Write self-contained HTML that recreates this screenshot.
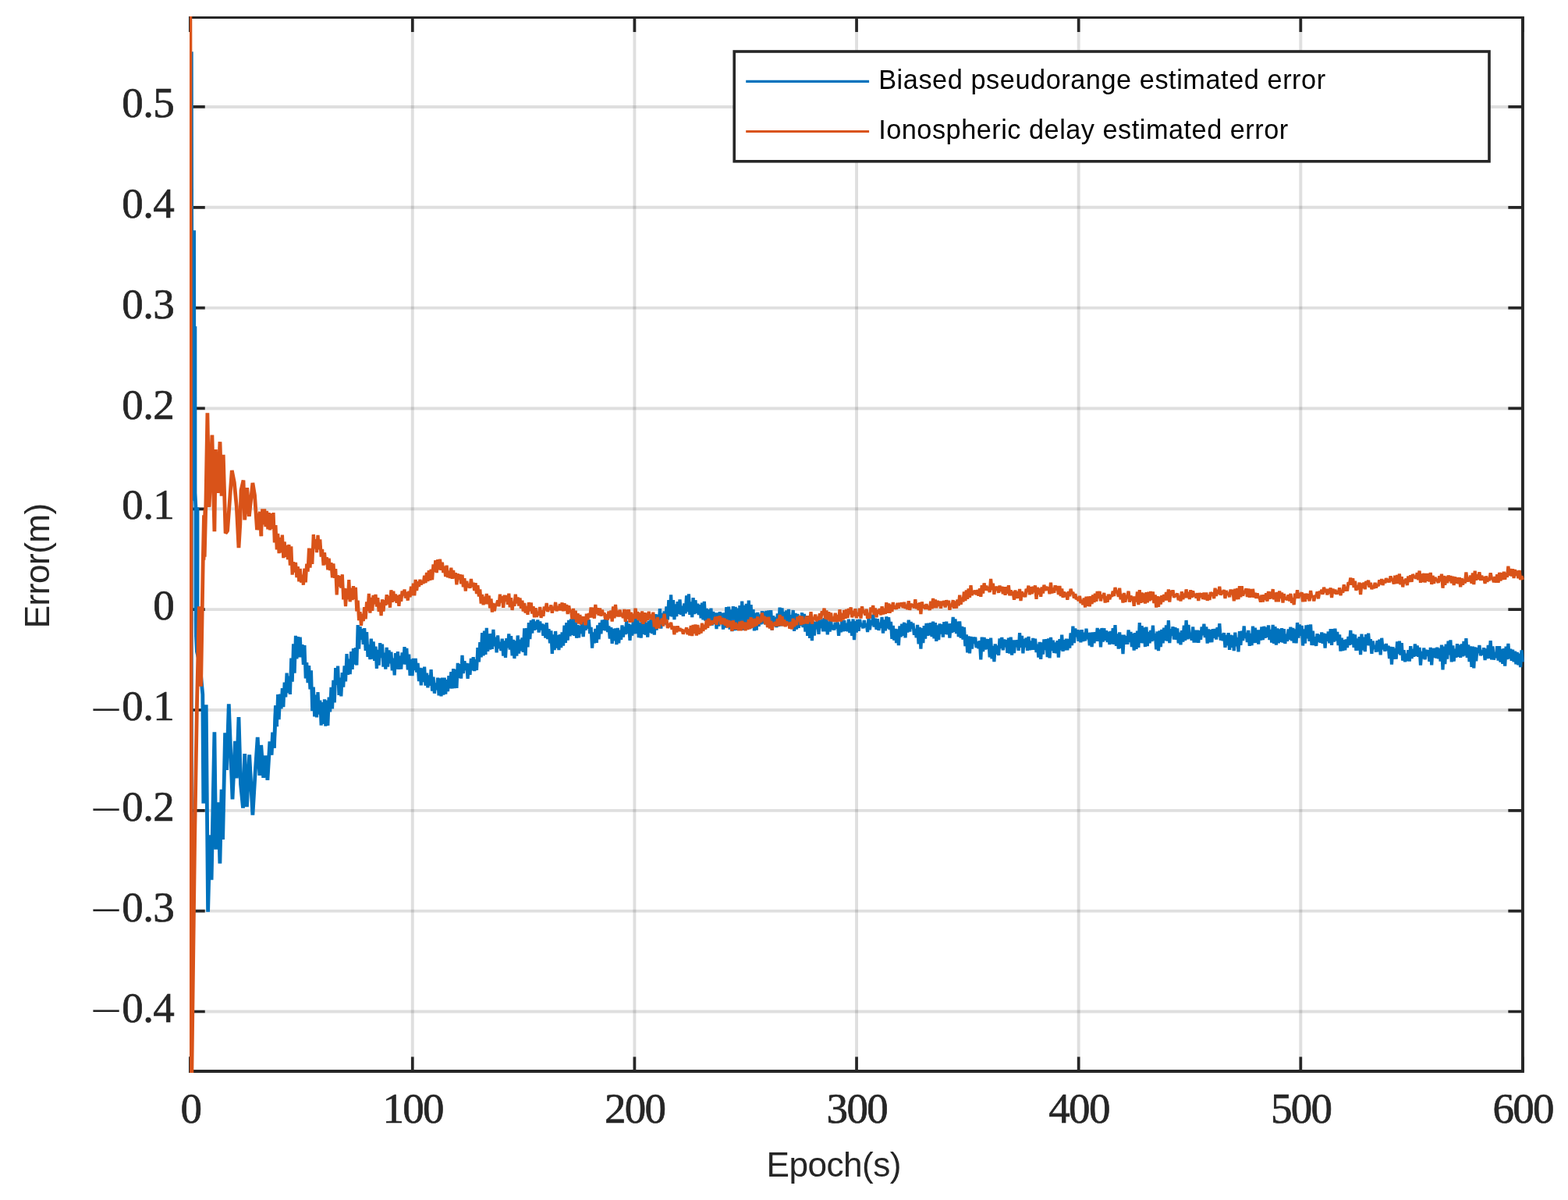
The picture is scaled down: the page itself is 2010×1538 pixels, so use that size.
<!DOCTYPE html>
<html lang="en"><head><meta charset="utf-8"><title>Estimated error</title>
<style>html,body{margin:0;padding:0;background:#fff}body{width:2010px;height:1538px;overflow:hidden}svg{display:block}.tk{font-family:"Liberation Serif","DejaVu Serif",serif;font-size:55px;fill:#262626;stroke:#262626;stroke-width:0.7px;letter-spacing:-0.7px}.lb{font-family:"Liberation Sans","DejaVu Sans",sans-serif;font-size:44.2px;fill:#262626;letter-spacing:-0.55px}.lg{font-family:"Liberation Sans","DejaVu Sans",sans-serif;font-size:34.3px;fill:#000;letter-spacing:0.5px}</style></head><body>
<svg width="2010" height="1538" viewBox="0 0 2010 1538">
<defs><clipPath id="cpb"><rect x="244.4" y="0" width="1720" height="1538"/></clipPath><clipPath id="cp"><rect x="242.9" y="21.0" width="1711.0" height="1354.0"/></clipPath></defs>
<rect x="0" y="0" width="2010" height="1538" fill="#fff"/>
<path d="M528.78,22.45 V1373.00 M813.42,22.45 V1373.00 M1098.05,22.45 V1373.00 M1382.68,22.45 V1373.00 M1667.32,22.45 V1373.00" stroke="#262626" stroke-opacity="0.15" stroke-width="3.9" fill="none"/>
<path d="M244.15,1296.51 H1951.95 M244.15,1167.67 H1951.95 M244.15,1038.83 H1951.95 M244.15,909.99 H1951.95 M244.15,781.15 H1951.95 M244.15,652.31 H1951.95 M244.15,523.47 H1951.95 M244.15,394.63 H1951.95 M244.15,265.79 H1951.95 M244.15,136.95 H1951.95" stroke="#262626" stroke-opacity="0.15" stroke-width="3.9" fill="none"/>
<path d="M244.15,1373.00 v-18.60 M244.15,22.45 v18.60 M528.78,1373.00 v-18.60 M528.78,22.45 v18.60 M813.42,1373.00 v-18.60 M813.42,22.45 v18.60 M1098.05,1373.00 v-18.60 M1098.05,22.45 v18.60 M1382.68,1373.00 v-18.60 M1382.68,22.45 v18.60 M1667.32,1373.00 v-18.60 M1667.32,22.45 v18.60 M1951.95,1373.00 v-18.60 M1951.95,22.45 v18.60 M244.15,1296.51 h18.60 M1951.95,1296.51 h-18.60 M244.15,1167.67 h18.60 M1951.95,1167.67 h-18.60 M244.15,1038.83 h18.60 M1951.95,1038.83 h-18.60 M244.15,909.99 h18.60 M1951.95,909.99 h-18.60 M244.15,781.15 h18.60 M1951.95,781.15 h-18.60 M244.15,652.31 h18.60 M1951.95,652.31 h-18.60 M244.15,523.47 h18.60 M1951.95,523.47 h-18.60 M244.15,394.63 h18.60 M1951.95,394.63 h-18.60 M244.15,265.79 h18.60 M1951.95,265.79 h-18.60 M244.15,136.95 h18.60 M1951.95,136.95 h-18.60" stroke="#262626" stroke-width="3.7" fill="none"/>
<path d="M243.0,21.0 H1953.9 V1374.95 H243.0 Z M245.9,23.9 V1371.05 H1950.0 V23.9 Z" fill="#262626" fill-rule="evenodd"/>
<path d="M242.0,21.0 H245.9 V41.0 H242.0 Z M242.0,1354.4 H245.9 V1374.95 H242.0 Z" fill="#262626"/>
<g clip-path="url(#cp)" fill="none" stroke-width="4.2" stroke-linejoin="bevel" stroke-linecap="butt">
<g clip-path="url(#cpb)" stroke="#0072BD"><path d="M245.3,1500.0 L245.3,66.2 L246.0,501.8 L248.6,295.2 L249.0,641.8 L249.9,418.2 L250.0,632.0 L251.0,652.0 L251.0,781.8 L253.0,778.0 L253.0,650.2 L251.8,700.0 L251.2,795.0 L251.4,815.0 L252.4,835.0 L256.0,850.0 L259.8,890.0 L260.8,1029.8 L264.2,903.2 L266.6,1168.7 L269.2,1070.2 L271.1,1127.6 L274.9,938.3 L276.8,1088.7 L279.7,1028.3 L281.9,1106.7 L284.1,1011.9 L285.6,1076.0 L288.6,939.3 L290.6,987.0 L293.3,902.4 L295.8,967.3 L298.0,1024.4 L301.5,949.8 L303.3,997.5 L306.0,919.1 L308.5,1004.7 L311.5,1035.6 L313.7,966.2 L316.4,1034.2 L319.7,967.3 L323.9,1044.6 L327.2,989.7 L330.2,944.9 L332.9,993.8 L334.7,955.0 L337.7,996.8 L340.4,968.5 L342.9,999.8 L345.9,950.5 L348.1,967.6 L349.6,938.6 L351.4,958.6 L353.4,904.3 L354.8,931.1" stroke-width="4.8"/><path d="M351.4,958.6 L353.4,904.3 L354.8,931.1 L356.2,890.1 L357.6,922.1 L359.1,889.6 L360.5,908.4 L361.9,882.1 L363.3,906.2 L364.7,874.7 L366.2,893.5 L367.6,862.7 L369.0,888.1 L370.4,866.6 L371.9,889.9 L373.3,843.6 L374.7,873.8 L376.1,825.3 L377.6,862.6 L379.0,814.8 L380.4,844.3 L381.8,816.1 L383.3,842.3 L384.7,816.7 L386.1,842.2 L387.5,826.0 L388.9,851.9 L390.4,827.1 L391.8,869.5 L393.2,849.1 L394.6,875.2 L396.1,853.2 L397.5,883.3 L398.9,859.2 L400.3,911.2 L401.8,880.7 L403.2,918.5 L404.6,890.7 L406.0,919.4 L407.5,887.0 L408.9,915.7 L410.3,897.6 L411.7,929.7 L413.1,900.0 L414.6,928.0 L416.0,896.4 L417.4,930.7 L418.8,897.7 L420.3,929.8 L421.7,893.7 L423.1,912.4 L424.5,880.8 L426.0,908.4 L427.4,871.8 L428.8,900.5 L430.2,856.0 L431.7,877.8 L433.1,853.7 L434.5,890.9 L435.9,868.6 L437.3,892.5 L438.8,862.0 L440.2,880.7 L441.6,853.4 L443.0,873.3 L444.5,838.2 L445.9,864.9 L447.3,844.7 L448.7,864.1 L450.2,835.1 L451.6,857.9 L453.0,831.1 L454.4,851.7 L455.9,830.1 L457.3,852.5 L458.7,801.1 L460.1,831.7 L461.5,803.0 L463.0,819.8 L464.4,805.9 L465.8,825.8 L467.2,805.1 L468.7,834.0 L470.1,810.1 L471.5,841.8 L472.9,826.4 L474.4,845.1 L475.8,818.7 L477.2,844.6 L478.6,822.5 L480.1,846.8 L481.5,828.7 L482.9,857.0 L484.3,832.8 L485.7,852.6 L487.2,824.1 L488.6,843.1 L490.0,825.7 L491.4,854.7 L492.9,836.7 L494.3,857.7 L495.7,829.9 L497.1,854.5 L498.6,833.4 L500.0,850.2 L501.4,835.7 L502.8,859.3 L504.3,843.6 L505.7,865.4 L507.1,837.1 L508.5,857.5 L509.9,835.2 L511.4,857.8 L512.8,840.7 L514.2,857.7 L515.6,836.3 L517.1,851.3 L518.5,829.1 L519.9,851.5 L521.3,830.9 L522.8,858.5 L524.2,838.7 L525.6,866.0 L527.0,844.8 L528.5,866.0 L529.9,844.0 L531.3,859.0 L532.7,844.0 L534.1,861.5 L535.6,850.0 L537.0,873.1 L538.4,855.8 L539.8,878.3 L541.3,856.5 L542.7,874.0 L544.1,854.6 L545.5,878.7 L547.0,862.6 L548.4,881.3 L549.8,865.5 L551.2,878.9 L552.6,858.1 L554.1,885.6 L555.5,867.7 L556.9,888.7 L558.3,875.4 L559.8,884.2 L561.2,868.6 L562.6,891.3 L564.0,869.5 L565.5,892.4 L566.9,868.6 L568.3,890.7 L569.7,868.6 L571.2,889.5 L572.6,871.1 L574.0,886.2 L575.4,866.2 L576.8,882.4 L578.3,861.1 L579.7,882.5 L581.1,857.2 L582.5,882.2 L584.0,857.8 L585.4,881.9 L586.8,849.8 L588.2,869.2 L589.7,851.2 L591.1,869.7 L592.5,839.8 L593.9,863.0 L595.4,847.3 L596.8,858.8 L598.2,850.0 L599.6,869.9 L601.0,850.4 L602.5,864.8 L603.9,843.9 L605.3,859.3 L606.7,842.2 L608.2,860.0 L609.6,845.3 L611.0,859.0 L612.4,830.1 L613.9,848.5 L615.3,823.1 L616.7,842.4 L618.1,811.1 L619.6,840.4 L621.0,808.5 L622.4,839.0 L623.8,804.8 L625.2,834.9 L626.7,812.3 L628.1,832.5 L629.5,812.2 L630.9,831.9 L632.4,806.8 L633.8,828.2 L635.2,816.6 L636.6,836.3 L638.1,814.3 L639.5,831.2 L640.9,823.1 L642.3,834.1 L643.8,818.6 L645.2,840.6 L646.6,821.4 L648.0,842.8 L649.4,818.2 L650.9,830.3 L652.3,812.3 L653.7,832.6 L655.1,815.2 L656.6,840.3 L658.0,819.9 L659.4,844.0 L660.8,821.5 L662.3,840.7 L663.7,814.5 L665.1,837.7 L666.5,819.7 L668.0,834.4 L669.4,817.3 L670.8,835.9 L672.2,805.4 L673.6,840.2 L675.1,805.1 L676.5,829.3 L677.9,798.2 L679.3,819.1 L680.8,795.2 L682.2,811.5 L683.6,793.7 L685.0,807.6 L686.5,796.5 L687.9,806.6 L689.3,794.4 L690.7,810.5 L692.2,796.6 L693.6,807.5 L695.0,799.4 L696.4,814.7 L697.8,800.4 L699.3,817.5 L700.7,798.2 L702.1,819.1 L703.5,806.1 L705.0,824.3 L706.4,808.3 L707.8,837.9 L709.2,813.3 L710.7,833.1 L712.1,809.0 L713.5,830.6 L714.9,814.2 L716.4,833.0 L717.8,813.2 L719.2,830.1 L720.6,810.5 L722.0,827.7 L723.5,801.6 L724.9,824.0 L726.3,798.2 L727.7,820.6 L729.2,794.8 L730.6,815.3 L732.0,793.5 L733.4,813.8 L734.9,792.4 L736.3,814.9 L737.7,797.3 L739.1,817.7 L740.6,801.0 L742.0,817.2 L743.4,801.9 L744.8,812.0 L746.2,795.8 L747.7,816.1 L749.1,800.6 L750.5,807.6 L751.9,800.3 L753.4,805.5 L754.8,794.2 L756.2,812.1 L757.6,803.8 L759.1,830.7 L760.5,810.3 L761.9,824.4 L763.3,806.0 L764.8,823.9 L766.2,801.4 L767.6,819.3 L769.0,798.2 L770.4,812.2 L771.9,794.7 L773.3,807.8 L774.7,794.2 L776.1,808.2 L777.6,788.6 L779.0,810.1 L780.4,802.4 L781.8,818.6 L783.3,804.2 L784.7,824.9 L786.1,805.8 L787.5,821.4 L789.0,805.5 L790.4,826.1 L791.8,805.0 L793.2,824.4 L794.6,807.6 L796.1,819.9 L797.5,801.5 L798.9,816.6 L800.3,803.5 L801.8,813.0 L803.2,795.6 L804.6,812.1 L806.0,799.4 L807.5,820.8 L808.9,800.6 L810.3,814.7 L811.7,796.1 L813.2,812.3 L814.6,792.0 L816.0,812.1 L817.4,795.0 L818.8,817.2 L820.3,797.8 L821.7,817.7 L823.1,797.5 L824.5,812.9 L826.0,795.3 L827.4,813.7 L828.8,797.8 L830.2,816.7 L831.7,795.7 L833.1,810.9 L834.5,793.6 L835.9,812.2 L837.3,790.6 L838.8,813.6 L840.2,787.2 L841.6,807.7 L843.0,787.6 L844.5,803.4 L845.9,780.1 L847.3,805.6 L848.7,785.8 L850.2,799.0 L851.6,783.4 L853.0,800.6 L854.4,777.4 L855.9,794.4 L857.3,769.0 L858.7,789.7 L860.1,762.3 L861.5,790.5 L863.0,769.1 L864.4,794.1 L865.8,774.3 L867.2,790.0 L868.7,771.2 L870.1,786.9 L871.5,768.3 L872.9,787.9 L874.4,776.8 L875.8,789.8 L877.2,773.4 L878.6,786.3 L880.1,763.3 L881.5,784.2 L882.9,761.4 L884.3,788.0 L885.7,771.5 L887.2,791.1 L888.6,766.2 L890.0,787.2 L891.4,769.3 L892.9,785.9 L894.3,773.7 L895.7,788.1 L897.1,775.1 L898.6,792.2 L900.0,772.7 L901.4,794.3 L902.8,770.8 L904.3,795.7 L905.7,780.0 L907.1,798.0 L908.5,781.1 L909.9,798.7 L911.4,779.6 L912.8,801.5 L914.2,783.9 L915.6,800.1 L917.1,785.4 L918.5,806.1 L919.9,785.5 L921.3,802.7 L922.8,784.1 L924.2,798.6 L925.6,785.7 L927.0,806.7 L928.5,785.3 L929.9,804.7 L931.3,778.2 L932.7,803.5 L934.1,777.6 L935.6,806.6 L937.0,781.4 L938.4,809.1 L939.8,777.2 L941.3,808.2 L942.7,777.9 L944.1,807.9 L945.5,779.6 L947.0,807.5 L948.4,776.2 L949.8,807.5 L951.2,770.6 L952.7,807.7 L954.1,775.9 L955.5,806.9 L956.9,773.9 L958.3,806.6 L959.8,769.6 L961.2,806.2 L962.6,775.1 L964.0,804.6 L965.5,781.1 L966.9,808.3 L968.3,785.7 L969.7,807.5 L971.2,784.8 L972.6,802.8 L974.0,787.5 L975.4,800.3 L976.9,783.1 L978.3,799.4 L979.7,783.8 L981.1,800.3 L982.5,783.0 L984.0,801.4 L985.4,782.3 L986.8,803.1 L988.2,782.2 L989.7,807.7 L991.1,789.1 L992.5,802.6 L993.9,791.1 L995.4,804.1 L996.8,786.3 L998.2,803.0 L999.6,778.6 L1001.1,802.4 L1002.5,779.4 L1003.9,801.9 L1005.3,784.0 L1006.7,801.4 L1008.2,782.5 L1009.6,796.9 L1011.0,780.9 L1012.4,803.8 L1013.9,788.1 L1015.3,800.1 L1016.7,782.0 L1018.1,808.9 L1019.6,785.8 L1021.0,806.6 L1022.4,786.8 L1023.8,804.8 L1025.3,789.8 L1026.7,802.0 L1028.1,785.3 L1029.5,804.1 L1030.9,786.8 L1032.4,809.7 L1033.8,789.2 L1035.2,814.8 L1036.6,793.9 L1038.1,817.8 L1039.5,795.9 L1040.9,821.1 L1042.3,796.3 L1043.8,814.7 L1045.2,796.9 L1046.6,806.3 L1048.0,795.4 L1049.5,812.9 L1050.9,794.8 L1052.3,804.9 L1053.7,793.7 L1055.1,809.3 L1056.6,792.2 L1058.0,809.2 L1059.4,793.9 L1060.8,813.4 L1062.3,796.5 L1063.7,809.5 L1065.1,795.5 L1066.5,806.9 L1068.0,801.3 L1069.4,807.5 L1070.8,797.8 L1072.2,805.5 L1073.7,797.5 L1075.1,814.8 L1076.5,800.7 L1077.9,810.2 L1079.3,795.1 L1080.8,809.2 L1082.2,795.3 L1083.6,808.6 L1085.0,798.9 L1086.5,809.2 L1087.9,793.6 L1089.3,811.0 L1090.7,796.7 L1092.2,814.9 L1093.6,793.5 L1095.0,820.1 L1096.4,796.0 L1097.8,810.6 L1099.3,794.1 L1100.7,808.9 L1102.1,793.8 L1103.5,803.1 L1105.0,799.7 L1106.4,805.1 L1107.8,795.1 L1109.2,804.3 L1110.7,799.1 L1112.1,810.1 L1113.5,791.8 L1114.9,807.3 L1116.4,794.9 L1117.8,801.3 L1119.2,787.8 L1120.6,803.5 L1122.0,792.6 L1123.5,806.7 L1124.9,793.1 L1126.3,807.9 L1127.7,798.1 L1129.2,804.8 L1130.6,791.0 L1132.0,811.6 L1133.4,794.5 L1134.9,808.4 L1136.3,790.3 L1137.7,805.6 L1139.1,791.1 L1140.6,807.0 L1142.0,796.8 L1143.4,818.9 L1144.8,801.9 L1146.2,820.7 L1147.7,806.0 L1149.1,824.1 L1150.5,806.4 L1151.9,827.1 L1153.4,802.5 L1154.8,816.2 L1156.2,799.6 L1157.6,814.9 L1159.1,797.8 L1160.5,817.3 L1161.9,799.2 L1163.3,810.5 L1164.8,794.6 L1166.2,809.5 L1167.6,797.1 L1169.0,805.6 L1170.4,798.8 L1171.9,813.8 L1173.3,806.0 L1174.7,817.3 L1176.1,801.0 L1177.6,825.4 L1179.0,803.8 L1180.4,831.7 L1181.8,805.1 L1183.3,824.0 L1184.7,802.2 L1186.1,818.7 L1187.5,798.8 L1189.0,814.9 L1190.4,798.7 L1191.8,814.2 L1193.2,798.2 L1194.6,816.2 L1196.1,796.7 L1197.5,818.3 L1198.9,798.1 L1200.3,821.9 L1201.8,801.5 L1203.2,820.1 L1204.6,799.5 L1206.0,812.4 L1207.5,800.2 L1208.9,816.6 L1210.3,797.2 L1211.7,812.8 L1213.2,796.7 L1214.6,813.3 L1216.0,799.5 L1217.4,817.7 L1218.8,799.1 L1220.3,811.0 L1221.7,790.9 L1223.1,809.8 L1224.5,793.4 L1226.0,812.1 L1227.4,796.6 L1228.8,816.1 L1230.2,796.5 L1231.7,817.7 L1233.1,802.9 L1234.5,819.7 L1235.9,803.8 L1237.4,828.2 L1238.8,813.4 L1240.2,836.4 L1241.6,815.4 L1243.0,837.3 L1244.5,815.9 L1245.9,831.5 L1247.3,816.7 L1248.7,824.6 L1250.2,816.7 L1251.6,830.1 L1253.0,822.4 L1254.4,831.1 L1255.9,821.4 L1257.3,845.5 L1258.7,816.7 L1260.1,835.2 L1261.6,817.0 L1263.0,832.6 L1264.4,818.9 L1265.8,832.1 L1267.2,819.2 L1268.7,842.4 L1270.1,817.5 L1271.5,844.3 L1272.9,827.9 L1274.4,848.1 L1275.8,825.4 L1277.2,838.6 L1278.6,827.6 L1280.1,839.9 L1281.5,818.5 L1282.9,831.1 L1284.3,817.0 L1285.8,833.3 L1287.2,819.5 L1288.6,829.2 L1290.0,820.1 L1291.4,836.9 L1292.9,817.6 L1294.3,837.5 L1295.7,816.7 L1297.1,839.5 L1298.6,820.5 L1300.0,837.1 L1301.4,820.4 L1302.8,829.1 L1304.3,820.3 L1305.7,833.8 L1307.1,811.2 L1308.5,829.8 L1310.0,815.0 L1311.4,837.4 L1312.8,818.8 L1314.2,829.5 L1315.6,817.6 L1317.1,833.9 L1318.5,816.0 L1319.9,833.2 L1321.3,821.5 L1322.8,832.9 L1324.2,818.0 L1325.6,832.9 L1327.0,818.8 L1328.5,836.0 L1329.9,825.6 L1331.3,842.6 L1332.7,822.9 L1334.2,844.9 L1335.6,823.5 L1337.0,838.6 L1338.4,819.5 L1339.8,832.9 L1341.3,819.2 L1342.7,842.2 L1344.1,818.3 L1345.5,843.3 L1347.0,816.9 L1348.4,834.1 L1349.8,820.6 L1351.2,836.9 L1352.7,823.4 L1354.1,837.3 L1355.5,821.1 L1356.9,842.7 L1358.4,819.1 L1359.8,833.4 L1361.2,813.6 L1362.6,834.8 L1364.0,820.3 L1365.5,833.4 L1366.9,818.6 L1368.3,833.2 L1369.7,818.9 L1371.2,830.5 L1372.6,811.3 L1374.0,827.2 L1375.4,802.7 L1376.9,824.0 L1378.3,805.4 L1379.7,816.2 L1381.1,807.1 L1382.6,821.9 L1384.0,807.7 L1385.4,823.3 L1386.8,807.1 L1388.2,821.9 L1389.7,810.7 L1391.1,821.4 L1392.5,805.7 L1393.9,819.1 L1395.4,811.0 L1396.8,827.3 L1398.2,810.7 L1399.6,829.2 L1401.1,810.4 L1402.5,824.3 L1403.9,810.1 L1405.3,821.7 L1406.7,805.0 L1408.2,821.8 L1409.6,806.7 L1411.0,829.3 L1412.4,805.0 L1413.9,822.5 L1415.3,805.3 L1416.7,820.8 L1418.1,808.1 L1419.6,823.0 L1421.0,809.8 L1422.4,826.0 L1423.8,809.0 L1425.3,825.2 L1426.7,805.2 L1428.1,825.8 L1429.5,801.1 L1430.9,827.9 L1432.4,812.5 L1433.8,831.5 L1435.2,810.4 L1436.6,830.7 L1438.1,813.7 L1439.5,838.1 L1440.9,813.7 L1442.3,825.6 L1443.8,815.2 L1445.2,825.8 L1446.6,807.5 L1448.0,822.9 L1449.5,809.9 L1450.9,829.0 L1452.3,811.8 L1453.7,833.7 L1455.1,811.2 L1456.6,832.0 L1458.0,808.5 L1459.4,829.8 L1460.8,798.0 L1462.3,824.0 L1463.7,802.1 L1465.1,824.3 L1466.5,804.5 L1468.0,829.0 L1469.4,803.5 L1470.8,828.1 L1472.2,810.0 L1473.7,824.3 L1475.1,807.9 L1476.5,822.1 L1477.9,801.6 L1479.3,820.7 L1480.8,811.9 L1482.2,832.3 L1483.6,809.5 L1485.0,834.1 L1486.5,808.3 L1487.9,829.0 L1489.3,806.9 L1490.7,824.3 L1492.2,804.6 L1493.6,821.1 L1495.0,801.3 L1496.4,821.5 L1497.9,795.1 L1499.3,824.1 L1500.7,806.2 L1502.1,814.7 L1503.5,803.3 L1505.0,819.5 L1506.4,804.2 L1507.8,819.7 L1509.2,805.3 L1510.7,824.3 L1512.1,810.6 L1513.5,826.3 L1514.9,808.1 L1516.4,822.7 L1517.8,801.7 L1519.2,821.0 L1520.6,795.0 L1522.1,819.4 L1523.5,800.8 L1524.9,818.4 L1526.3,811.0 L1527.7,820.8 L1529.2,803.5 L1530.6,823.5 L1532.0,807.6 L1533.4,823.5 L1534.9,807.8 L1536.3,823.8 L1537.7,808.2 L1539.1,819.8 L1540.6,803.5 L1542.0,814.2 L1543.4,799.6 L1544.8,817.1 L1546.3,803.4 L1547.7,824.7 L1549.1,806.3 L1550.5,823.4 L1551.9,807.1 L1553.4,823.2 L1554.8,806.2 L1556.2,817.7 L1557.6,806.1 L1559.1,819.6 L1560.5,804.1 L1561.9,816.0 L1563.3,799.1 L1564.8,820.6 L1566.2,812.4 L1567.6,821.2 L1569.0,811.1 L1570.5,829.9 L1571.9,814.0 L1573.3,827.3 L1574.7,811.1 L1576.1,832.8 L1577.6,813.8 L1579.0,829.8 L1580.4,814.5 L1581.8,834.1 L1583.3,810.7 L1584.7,828.2 L1586.1,817.1 L1587.5,835.3 L1589.0,809.0 L1590.4,826.8 L1591.8,808.6 L1593.2,821.2 L1594.7,802.5 L1596.1,817.8 L1597.5,810.9 L1598.9,823.0 L1600.3,807.9 L1601.8,827.9 L1603.2,812.0 L1604.6,827.2 L1606.0,802.7 L1607.5,824.0 L1608.9,804.7 L1610.3,823.9 L1611.7,807.3 L1613.2,825.7 L1614.6,807.3 L1616.0,820.7 L1617.4,803.4 L1618.9,820.2 L1620.3,802.8 L1621.7,817.7 L1623.1,804.0 L1624.5,816.7 L1626.0,801.4 L1627.4,820.0 L1628.8,806.9 L1630.2,823.6 L1631.7,800.9 L1633.1,824.8 L1634.5,803.2 L1635.9,826.5 L1637.4,805.5 L1638.8,824.3 L1640.2,806.5 L1641.6,822.8 L1643.1,805.1 L1644.5,823.7 L1645.9,806.2 L1647.3,824.9 L1648.7,812.8 L1650.2,821.8 L1651.6,806.5 L1653.0,819.8 L1654.4,803.6 L1655.9,821.4 L1657.3,804.9 L1658.7,824.0 L1660.1,806.5 L1661.6,824.4 L1663.0,798.0 L1664.4,817.6 L1665.8,800.5 L1667.2,814.8 L1668.7,801.9 L1670.1,827.5 L1671.5,806.4 L1672.9,824.7 L1674.4,801.5 L1675.8,818.4 L1677.2,800.8 L1678.6,821.9 L1680.1,800.3 L1681.5,827.0 L1682.9,808.6 L1684.3,827.0 L1685.8,816.2 L1687.2,827.9 L1688.6,812.3 L1690.0,823.0 L1691.4,813.6 L1692.9,823.8 L1694.3,810.4 L1695.7,824.9 L1697.1,811.6 L1698.6,830.7 L1700.0,812.3 L1701.4,821.8 L1702.8,809.6 L1704.3,824.4 L1705.7,806.2 L1707.1,826.8 L1708.5,806.1 L1710.0,822.5 L1711.4,805.6 L1712.8,821.2 L1714.2,809.9 L1715.6,827.1 L1717.1,813.3 L1718.5,834.5 L1719.9,817.7 L1721.3,834.0 L1722.8,820.1 L1724.2,833.4 L1725.6,819.4 L1727.0,830.1 L1728.5,815.9 L1729.9,826.9 L1731.3,807.9 L1732.7,825.9 L1734.2,812.3 L1735.6,829.8 L1737.0,813.3 L1738.4,833.9 L1739.8,818.4 L1741.3,833.5 L1742.7,816.1 L1744.1,839.1 L1745.5,812.7 L1747.0,833.4 L1748.4,816.6 L1749.8,835.2 L1751.2,813.2 L1752.7,826.9 L1754.1,811.7 L1755.5,827.4 L1756.9,819.1 L1758.4,837.8 L1759.8,821.6 L1761.2,832.0 L1762.6,827.6 L1764.0,835.6 L1765.5,821.1 L1766.9,835.4 L1768.3,819.6 L1769.7,839.3 L1771.2,817.8 L1772.6,832.2 L1774.0,826.0 L1775.4,834.7 L1776.9,825.2 L1778.3,833.3 L1779.7,827.7 L1781.1,844.1 L1782.6,828.9 L1784.0,851.5 L1785.4,829.3 L1786.8,844.9 L1788.2,830.9 L1789.7,844.7 L1791.1,822.4 L1792.5,838.1 L1793.9,821.7 L1795.4,839.7 L1796.8,824.2 L1798.2,846.7 L1799.6,833.2 L1801.1,848.3 L1802.5,837.9 L1803.9,847.3 L1805.3,833.3 L1806.8,847.5 L1808.2,828.1 L1809.6,844.0 L1811.0,832.1 L1812.4,841.8 L1813.9,825.5 L1815.3,840.9 L1816.7,827.5 L1818.1,841.8 L1819.6,829.8 L1821.0,852.6 L1822.4,834.9 L1823.8,844.2 L1825.3,830.4 L1826.7,845.2 L1828.1,832.8 L1829.5,840.7 L1831.0,833.2 L1832.4,847.9 L1833.8,829.8 L1835.2,852.3 L1836.6,831.0 L1838.1,842.7 L1839.5,830.8 L1840.9,843.6 L1842.3,829.6 L1843.8,844.4 L1845.2,830.8 L1846.6,847.6 L1848.0,826.7 L1849.5,858.3 L1850.9,828.5 L1852.3,851.1 L1853.7,825.5 L1855.2,844.6 L1856.6,821.7 L1858.0,839.3 L1859.4,820.4 L1860.8,848.4 L1862.3,827.5 L1863.7,847.5 L1865.1,831.8 L1866.5,842.8 L1868.0,825.2 L1869.4,841.8 L1870.8,826.8 L1872.2,842.8 L1873.7,825.5 L1875.1,841.4 L1876.5,821.8 L1877.9,840.4 L1879.4,818.2 L1880.8,842.8 L1882.2,826.3 L1883.6,848.2 L1885.0,828.4 L1886.5,854.8 L1887.9,828.7 L1889.3,856.3 L1890.7,829.3 L1892.2,847.3 L1893.6,830.1 L1895.0,836.9 L1896.4,827.1 L1897.9,840.3 L1899.3,833.7 L1900.7,839.2 L1902.1,830.3 L1903.6,846.1 L1905.0,831.4 L1906.4,844.2 L1907.8,826.8 L1909.2,843.9 L1910.7,821.1 L1912.1,845.5 L1913.5,828.4 L1914.9,845.6 L1916.4,836.6 L1917.8,843.1 L1919.2,828.2 L1920.6,846.6 L1922.1,828.2 L1923.5,848.6 L1924.9,832.0 L1926.3,850.9 L1927.8,831.1 L1929.2,853.7 L1930.6,828.5 L1932.0,845.1 L1933.4,825.0 L1934.9,844.2 L1936.3,831.8 L1937.7,846.9 L1939.1,832.6 L1940.6,848.4 L1942.0,834.8 L1943.4,851.2 L1944.8,835.9 L1946.3,852.4 L1947.7,837.6 L1949.1,855.1 L1950.5,833.3 L1952.0,848.5"/></g>
<g stroke="#D95319"><path d="M243.3,-457.0 L245.5,1401.8 L249.6,1075.0 L252.5,902.0 L255.3,777.2 L257.6,879.8 L260.2,722.0 L261.5,660.2 L261.0,717.8 L262.9,653.2 L262.2,713.8 L264.0,640.0 L265.9,529.2 L268.1,649.9 L271.9,557.6 L274.9,681.3 L276.4,576.0 L279.1,631.9 L282.0,566.2 L284.1,635.6 L286.2,582.7 L289.1,683.5 L291.6,680.2 L297.3,602.9 L300.3,618.1 L303.3,649.6 L306.0,702.2 L307.8,672.0 L309.0,628.6 L312.0,615.6 L313.7,666.3 L316.7,625.3 L319.4,661.8 L323.9,619.0 L326.5,634.6 L329.5,679.0 L333.4,656.0 L334.9,687.2" stroke-width="4.8"/><path d="M329.5,679.0 L333.4,656.0 L334.9,687.2 L336.3,652.3 L337.7,672.3 L339.1,652.5 L340.5,675.1 L342.0,655.0 L343.4,678.4 L344.8,657.1 L346.2,679.3 L347.7,658.1 L349.1,677.9 L350.5,657.1 L351.9,695.3 L353.4,673.0 L354.8,704.4 L356.2,683.8 L357.6,709.2 L359.1,688.8 L360.5,708.4 L361.9,685.7 L363.3,715.1 L364.7,694.5 L366.2,713.7 L367.6,698.8 L369.0,717.1 L370.4,698.0 L371.9,724.7 L373.3,700.3 L374.7,736.6 L376.1,720.2 L377.6,733.5 L379.0,721.0 L380.4,740.0 L381.8,726.1 L383.3,745.4 L384.7,729.0 L386.1,746.7 L387.5,736.6 L388.9,749.7 L390.4,728.7 L391.8,746.3 L393.2,722.5 L394.6,732.7 L396.1,702.7 L397.5,727.7 L398.9,702.8 L400.3,722.9 L401.8,685.0 L403.2,703.3 L404.6,691.2 L406.0,708.0 L407.5,686.0 L408.9,704.3 L410.3,691.3 L411.7,713.6 L413.1,703.8 L414.6,724.6 L416.0,708.2 L417.4,723.5 L418.8,714.3 L420.3,730.3 L421.7,715.7 L423.1,731.0 L424.5,721.2 L426.0,740.3 L427.4,722.5 L428.8,740.9 L430.2,729.2 L431.7,762.4 L433.1,737.3 L434.5,751.9 L435.9,738.1 L437.3,753.6 L438.8,736.3 L440.2,768.3 L441.6,753.9 L443.0,777.2 L444.5,754.5 L445.9,768.2 L447.3,743.1 L448.7,771.2 L450.2,753.6 L451.6,769.0 L453.0,751.2 L454.4,767.8 L455.9,752.8 L457.3,783.5 L458.7,769.5 L460.1,795.2 L461.5,784.3 L463.0,801.9 L464.4,786.8 L465.8,796.0 L467.2,778.1 L468.7,793.3 L470.1,771.3 L471.5,783.1 L472.9,760.9 L474.4,785.6 L475.8,765.8 L477.2,782.9 L478.6,763.0 L480.1,774.2 L481.5,762.0 L482.9,777.5 L484.3,766.1 L485.7,783.9 L487.2,772.4 L488.6,789.2 L490.0,768.3 L491.4,783.6 L492.9,769.1 L494.3,775.8 L495.7,762.3 L497.1,774.4 L498.6,763.6 L500.0,778.7 L501.4,756.3 L502.8,771.7 L504.3,757.8 L505.7,770.5 L507.1,761.5 L508.5,772.8 L509.9,763.2 L511.4,776.8 L512.8,762.0 L514.2,770.8 L515.6,757.4 L517.1,763.3 L518.5,755.5 L519.9,766.6 L521.3,758.9 L522.8,769.6 L524.2,757.7 L525.6,765.3 L527.0,751.6 L528.5,763.3 L529.9,747.7 L531.3,763.4 L532.7,743.0 L534.1,757.0 L535.6,745.3 L537.0,751.9 L538.4,742.9 L539.8,749.3 L541.3,744.6 L542.7,747.9 L544.1,737.7 L545.5,747.1 L547.0,734.1 L548.4,745.1 L549.8,731.3 L551.2,743.7 L552.6,729.7 L554.1,743.2 L555.5,723.3 L556.9,733.0 L558.3,718.3 L559.8,734.0 L561.2,717.3 L562.6,730.4 L564.0,716.8 L565.5,730.7 L566.9,720.6 L568.3,734.0 L569.7,725.7 L571.2,739.0 L572.6,724.8 L574.0,740.1 L575.4,731.9 L576.8,740.8 L578.3,727.8 L579.7,741.8 L581.1,731.0 L582.5,741.1 L584.0,734.2 L585.4,749.2 L586.8,735.5 L588.2,742.4 L589.7,736.3 L591.1,748.3 L592.5,736.6 L593.9,752.2 L595.4,741.3 L596.8,757.5 L598.2,744.8 L599.6,752.9 L601.0,748.8 L602.5,753.7 L603.9,742.1 L605.3,752.0 L606.7,746.8 L608.2,756.9 L609.6,747.1 L611.0,761.1 L612.4,750.3 L613.9,764.5 L615.3,755.5 L616.7,773.5 L618.1,762.1 L619.6,775.3 L621.0,764.7 L622.4,774.1 L623.8,760.9 L625.2,774.3 L626.7,763.4 L628.1,779.4 L629.5,767.4 L630.9,784.6 L632.4,773.1 L633.8,783.1 L635.2,774.9 L636.6,775.6 L638.1,769.5 L639.5,777.2 L640.9,761.8 L642.3,772.3 L643.8,764.1 L645.2,778.9 L646.6,762.8 L648.0,770.6 L649.4,762.9 L650.9,774.8 L652.3,760.6 L653.7,778.3 L655.1,766.3 L656.6,781.9 L658.0,771.1 L659.4,776.7 L660.8,761.7 L662.3,773.5 L663.7,765.5 L665.1,776.4 L666.5,766.5 L668.0,779.8 L669.4,769.8 L670.8,783.5 L672.2,773.1 L673.6,785.6 L675.1,776.9 L676.5,787.8 L677.9,772.1 L679.3,783.3 L680.8,772.5 L682.2,786.5 L683.6,777.3 L685.0,791.2 L686.5,779.3 L687.9,790.8 L689.3,784.2 L690.7,788.6 L692.2,778.0 L693.6,791.9 L695.0,782.2 L696.4,789.8 L697.8,777.6 L699.3,782.2 L700.7,773.0 L702.1,784.0 L703.5,778.9 L705.0,781.5 L706.4,775.6 L707.8,785.7 L709.2,778.3 L710.7,781.5 L712.1,771.9 L713.5,783.3 L714.9,777.2 L716.4,782.2 L717.8,774.2 L719.2,782.3 L720.6,772.4 L722.0,783.2 L723.5,773.4 L724.9,782.6 L726.3,775.0 L727.7,786.9 L729.2,776.4 L730.6,784.5 L732.0,781.6 L733.4,793.5 L734.9,779.9 L736.3,793.4 L737.7,782.6 L739.1,797.6 L740.6,786.2 L742.0,799.6 L743.4,788.0 L744.8,800.2 L746.2,790.1 L747.7,796.8 L749.1,790.3 L750.5,801.2 L751.9,786.8 L753.4,794.5 L754.8,786.0 L756.2,791.5 L757.6,778.6 L759.1,791.4 L760.5,778.8 L761.9,792.7 L763.3,774.9 L764.8,787.0 L766.2,779.2 L767.6,788.7 L769.0,779.5 L770.4,789.5 L771.9,781.8 L773.3,788.1 L774.7,785.5 L776.1,793.8 L777.6,787.5 L779.0,794.4 L780.4,783.5 L781.8,792.4 L783.3,782.6 L784.7,796.5 L786.1,777.4 L787.5,792.4 L789.0,774.9 L790.4,790.1 L791.8,783.0 L793.2,790.3 L794.6,781.7 L796.1,790.0 L797.5,787.0 L798.9,791.9 L800.3,780.9 L801.8,796.7 L803.2,781.5 L804.6,793.5 L806.0,781.3 L807.5,797.8 L808.9,784.7 L810.3,797.3 L811.7,786.9 L813.2,793.1 L814.6,779.6 L816.0,792.6 L817.4,784.1 L818.8,795.1 L820.3,785.4 L821.7,797.2 L823.1,783.4 L824.5,799.9 L826.0,785.2 L827.4,797.2 L828.8,785.7 L830.2,794.8 L831.7,783.8 L833.1,793.0 L834.5,787.6 L835.9,794.4 L837.3,784.7 L838.8,803.5 L840.2,793.5 L841.6,805.9 L843.0,791.0 L844.5,805.3 L845.9,795.1 L847.3,799.2 L848.7,792.6 L850.2,802.5 L851.6,786.7 L853.0,799.0 L854.4,793.9 L855.9,804.9 L857.3,799.3 L858.7,803.6 L860.1,797.7 L861.5,806.8 L863.0,802.8 L864.4,813.2 L865.8,802.6 L867.2,810.3 L868.7,802.5 L870.1,808.7 L871.5,805.2 L872.9,808.6 L874.4,806.6 L875.8,812.6 L877.2,808.4 L878.6,809.1 L880.1,804.4 L881.5,813.2 L882.9,806.3 L884.3,814.3 L885.7,802.1 L887.2,815.1 L888.6,800.9 L890.0,812.0 L891.4,800.6 L892.9,814.5 L894.3,801.0 L895.7,812.9 L897.1,805.3 L898.6,811.4 L900.0,798.8 L901.4,808.8 L902.8,800.8 L904.3,806.6 L905.7,794.8 L907.1,804.7 L908.5,792.7 L909.9,801.7 L911.4,795.4 L912.8,800.2 L914.2,796.6 L915.6,797.3 L917.1,790.6 L918.5,800.8 L919.9,790.1 L921.3,795.5 L922.8,789.6 L924.2,800.2 L925.6,791.9 L927.0,800.2 L928.5,792.5 L929.9,801.8 L931.3,794.1 L932.7,804.4 L934.1,795.2 L935.6,803.4 L937.0,795.9 L938.4,808.8 L939.8,795.2 L941.3,806.4 L942.7,797.8 L944.1,806.7 L945.5,799.7 L947.0,808.1 L948.4,796.7 L949.8,808.3 L951.2,795.8 L952.7,806.0 L954.1,797.4 L955.5,808.3 L956.9,797.7 L958.3,807.0 L959.8,793.9 L961.2,806.1 L962.6,791.1 L964.0,804.7 L965.5,793.0 L966.9,803.3 L968.3,792.7 L969.7,802.1 L971.2,790.3 L972.6,799.7 L974.0,792.8 L975.4,797.6 L976.9,785.6 L978.3,795.3 L979.7,789.7 L981.1,800.3 L982.5,791.1 L984.0,803.9 L985.4,790.6 L986.8,805.5 L988.2,795.8 L989.7,807.4 L991.1,798.4 L992.5,801.5 L993.9,797.0 L995.4,802.7 L996.8,793.0 L998.2,802.4 L999.6,788.0 L1001.1,802.1 L1002.5,790.1 L1003.9,802.3 L1005.3,794.4 L1006.7,803.1 L1008.2,796.6 L1009.6,801.2 L1011.0,798.0 L1012.4,805.5 L1013.9,797.0 L1015.3,806.4 L1016.7,792.8 L1018.1,803.1 L1019.6,795.5 L1021.0,801.1 L1022.4,790.6 L1023.8,796.0 L1025.3,789.3 L1026.7,800.9 L1028.1,789.9 L1029.5,799.6 L1030.9,794.7 L1032.4,798.9 L1033.8,789.7 L1035.2,799.4 L1036.6,789.3 L1038.1,796.9 L1039.5,784.3 L1040.9,799.5 L1042.3,792.0 L1043.8,793.8 L1045.2,787.7 L1046.6,796.1 L1048.0,790.9 L1049.5,794.7 L1050.9,786.3 L1052.3,793.5 L1053.7,783.3 L1055.1,787.8 L1056.6,779.7 L1058.0,793.3 L1059.4,782.4 L1060.8,794.3 L1062.3,784.3 L1063.7,796.1 L1065.1,785.4 L1066.5,796.5 L1068.0,790.7 L1069.4,796.7 L1070.8,785.8 L1072.2,797.1 L1073.7,788.0 L1075.1,796.6 L1076.5,781.1 L1077.9,796.4 L1079.3,786.1 L1080.8,794.5 L1082.2,782.0 L1083.6,792.7 L1085.0,780.9 L1086.5,791.9 L1087.9,780.1 L1089.3,787.2 L1090.7,778.4 L1092.2,791.3 L1093.6,782.8 L1095.0,789.3 L1096.4,780.3 L1097.8,792.0 L1099.3,785.6 L1100.7,789.4 L1102.1,779.8 L1103.5,792.6 L1105.0,777.3 L1106.4,784.6 L1107.8,783.2 L1109.2,788.5 L1110.7,780.7 L1112.1,792.8 L1113.5,786.1 L1114.9,792.4 L1116.4,778.5 L1117.8,783.9 L1119.2,776.0 L1120.6,788.0 L1122.0,779.4 L1123.5,791.3 L1124.9,781.6 L1126.3,786.5 L1127.7,780.1 L1129.2,788.3 L1130.6,777.2 L1132.0,787.3 L1133.4,780.0 L1134.9,786.7 L1136.3,772.2 L1137.7,785.7 L1139.1,773.4 L1140.6,785.8 L1142.0,774.7 L1143.4,783.9 L1144.8,772.1 L1146.2,780.4 L1147.7,776.6 L1149.1,780.7 L1150.5,773.0 L1151.9,779.5 L1153.4,772.8 L1154.8,776.7 L1156.2,772.5 L1157.6,779.1 L1159.1,771.9 L1160.5,780.0 L1161.9,775.1 L1163.3,780.9 L1164.8,770.3 L1166.2,781.8 L1167.6,773.9 L1169.0,777.3 L1170.4,774.8 L1171.9,779.3 L1173.3,768.2 L1174.7,780.3 L1176.1,773.4 L1177.6,782.0 L1179.0,772.3 L1180.4,787.0 L1181.8,771.4 L1183.3,779.4 L1184.7,775.6 L1186.1,780.7 L1187.5,774.3 L1189.0,780.6 L1190.4,776.7 L1191.8,781.9 L1193.2,770.7 L1194.6,780.2 L1196.1,767.1 L1197.5,779.2 L1198.9,768.6 L1200.3,779.1 L1201.8,769.9 L1203.2,776.7 L1204.6,770.5 L1206.0,779.6 L1207.5,770.6 L1208.9,776.1 L1210.3,770.1 L1211.7,778.4 L1213.2,769.3 L1214.6,775.8 L1216.0,769.7 L1217.4,781.7 L1218.8,774.4 L1220.3,777.9 L1221.7,769.2 L1223.1,779.8 L1224.5,770.5 L1226.0,779.6 L1227.4,768.6 L1228.8,776.4 L1230.2,762.8 L1231.7,774.8 L1233.1,765.7 L1234.5,771.4 L1235.9,758.4 L1237.4,770.1 L1238.8,756.5 L1240.2,767.8 L1241.6,754.4 L1243.0,765.7 L1244.5,750.2 L1245.9,762.9 L1247.3,757.0 L1248.7,761.1 L1250.2,756.7 L1251.6,762.2 L1253.0,756.2 L1254.4,763.6 L1255.9,754.4 L1257.3,764.7 L1258.7,750.3 L1260.1,760.6 L1261.6,747.4 L1263.0,756.6 L1264.4,750.6 L1265.8,756.8 L1267.2,752.3 L1268.7,759.1 L1270.1,742.0 L1271.5,756.1 L1272.9,747.7 L1274.4,761.7 L1275.8,751.8 L1277.2,756.4 L1278.6,752.0 L1280.1,759.8 L1281.5,750.6 L1282.9,757.7 L1284.3,751.9 L1285.8,761.2 L1287.2,752.4 L1288.6,762.7 L1290.0,752.3 L1291.4,761.0 L1292.9,750.3 L1294.3,763.4 L1295.7,756.5 L1297.1,763.0 L1298.6,758.0 L1300.0,768.8 L1301.4,756.6 L1302.8,766.9 L1304.3,758.0 L1305.7,766.7 L1307.1,755.0 L1308.5,770.1 L1310.0,758.1 L1311.4,764.6 L1312.8,760.3 L1314.2,765.3 L1315.6,754.9 L1317.1,758.1 L1318.5,750.7 L1319.9,762.2 L1321.3,752.2 L1322.8,761.1 L1324.2,751.9 L1325.6,759.2 L1327.0,750.4 L1328.5,767.7 L1329.9,752.9 L1331.3,761.9 L1332.7,754.1 L1334.2,764.7 L1335.6,752.6 L1337.0,760.4 L1338.4,749.7 L1339.8,757.0 L1341.3,751.9 L1342.7,756.1 L1344.1,752.8 L1345.5,761.2 L1347.0,746.7 L1348.4,760.3 L1349.8,753.7 L1351.2,759.7 L1352.7,750.4 L1354.1,756.4 L1355.5,751.1 L1356.9,762.1 L1358.4,751.0 L1359.8,764.0 L1361.2,754.6 L1362.6,765.8 L1364.0,758.5 L1365.5,764.9 L1366.9,759.6 L1368.3,768.8 L1369.7,758.1 L1371.2,764.2 L1372.6,754.8 L1374.0,761.5 L1375.4,758.8 L1376.9,766.6 L1378.3,761.2 L1379.7,768.0 L1381.1,765.8 L1382.6,770.0 L1384.0,763.9 L1385.4,772.9 L1386.8,769.1 L1388.2,774.9 L1389.7,766.6 L1391.1,778.4 L1392.5,764.8 L1393.9,776.8 L1395.4,764.5 L1396.8,777.2 L1398.2,764.2 L1399.6,774.1 L1401.1,762.6 L1402.5,771.9 L1403.9,760.7 L1405.3,770.8 L1406.7,758.0 L1408.2,767.0 L1409.6,757.9 L1411.0,770.3 L1412.4,762.6 L1413.9,766.0 L1415.3,760.0 L1416.7,772.4 L1418.1,764.4 L1419.6,771.8 L1421.0,761.8 L1422.4,768.1 L1423.8,763.0 L1425.3,764.5 L1426.7,757.8 L1428.1,763.9 L1429.5,753.1 L1430.9,758.8 L1432.4,757.8 L1433.8,764.8 L1435.2,753.7 L1436.6,768.3 L1438.1,761.6 L1439.5,772.5 L1440.9,760.0 L1442.3,771.6 L1443.8,764.3 L1445.2,765.0 L1446.6,757.7 L1448.0,771.6 L1449.5,763.6 L1450.9,769.5 L1452.3,764.7 L1453.7,776.8 L1455.1,764.6 L1456.6,771.2 L1458.0,758.6 L1459.4,775.1 L1460.8,756.1 L1462.3,772.7 L1463.7,759.5 L1465.1,772.0 L1466.5,760.4 L1468.0,773.5 L1469.4,759.2 L1470.8,772.4 L1472.2,758.8 L1473.7,770.3 L1475.1,757.9 L1476.5,768.9 L1477.9,758.5 L1479.3,773.1 L1480.8,762.5 L1482.2,778.5 L1483.6,764.3 L1485.0,777.8 L1486.5,764.7 L1487.9,774.4 L1489.3,763.3 L1490.7,771.4 L1492.2,762.0 L1493.6,769.5 L1495.0,759.1 L1496.4,769.4 L1497.9,755.5 L1499.3,771.5 L1500.7,756.8 L1502.1,763.3 L1503.5,756.3 L1505.0,765.8 L1506.4,762.1 L1507.8,763.9 L1509.2,760.7 L1510.7,769.1 L1512.1,763.7 L1513.5,770.4 L1514.9,758.2 L1516.4,768.0 L1517.8,760.7 L1519.2,766.3 L1520.6,755.4 L1522.1,766.1 L1523.5,758.8 L1524.9,767.9 L1526.3,756.3 L1527.7,766.0 L1529.2,757.3 L1530.6,764.7 L1532.0,761.0 L1533.4,766.4 L1534.9,760.3 L1536.3,769.9 L1537.7,760.0 L1539.1,765.4 L1540.6,760.4 L1542.0,767.8 L1543.4,759.5 L1544.8,768.3 L1546.3,759.6 L1547.7,769.8 L1549.1,762.5 L1550.5,768.9 L1551.9,759.0 L1553.4,763.5 L1554.8,759.3 L1556.2,767.0 L1557.6,753.8 L1559.1,763.8 L1560.5,755.9 L1561.9,761.2 L1563.3,751.9 L1564.8,762.8 L1566.2,757.2 L1567.6,760.9 L1569.0,756.0 L1570.5,766.9 L1571.9,757.0 L1573.3,761.5 L1574.7,760.2 L1576.1,765.1 L1577.6,755.6 L1579.0,762.0 L1580.4,755.6 L1581.8,770.2 L1583.3,754.8 L1584.7,768.2 L1586.1,753.9 L1587.5,768.0 L1589.0,751.2 L1590.4,765.3 L1591.8,751.2 L1593.2,763.6 L1594.7,757.9 L1596.1,759.6 L1597.5,754.3 L1598.9,765.0 L1600.3,754.6 L1601.8,765.7 L1603.2,754.9 L1604.6,765.5 L1606.0,754.9 L1607.5,765.7 L1608.9,760.0 L1610.3,766.7 L1611.7,760.5 L1613.2,766.0 L1614.6,765.8 L1616.0,771.6 L1617.4,762.7 L1618.9,771.5 L1620.3,762.4 L1621.7,768.9 L1623.1,760.4 L1624.5,770.6 L1626.0,758.1 L1627.4,767.6 L1628.8,758.6 L1630.2,767.2 L1631.7,755.1 L1633.1,768.3 L1634.5,759.4 L1635.9,771.2 L1637.4,759.0 L1638.8,771.2 L1640.2,757.5 L1641.6,766.7 L1643.1,759.5 L1644.5,772.4 L1645.9,761.2 L1647.3,768.6 L1648.7,765.9 L1650.2,769.0 L1651.6,762.4 L1653.0,770.5 L1654.4,760.9 L1655.9,772.8 L1657.3,766.4 L1658.7,775.1 L1660.1,760.8 L1661.6,766.6 L1663.0,756.4 L1664.4,766.9 L1665.8,760.2 L1667.2,763.5 L1668.7,759.2 L1670.1,771.3 L1671.5,760.7 L1672.9,771.0 L1674.4,760.7 L1675.8,767.6 L1677.2,761.4 L1678.6,770.3 L1680.1,757.1 L1681.5,766.1 L1682.9,763.2 L1684.3,770.3 L1685.8,763.2 L1687.2,764.6 L1688.6,758.4 L1690.0,767.3 L1691.4,757.9 L1692.9,761.0 L1694.3,755.9 L1695.7,761.8 L1697.1,752.8 L1698.6,759.1 L1700.0,754.8 L1701.4,762.3 L1702.8,754.9 L1704.3,760.8 L1705.7,753.5 L1707.1,766.1 L1708.5,754.8 L1710.0,760.4 L1711.4,755.8 L1712.8,761.6 L1714.2,757.3 L1715.6,761.0 L1717.1,753.4 L1718.5,763.2 L1719.9,756.2 L1721.3,759.6 L1722.8,749.4 L1724.2,757.4 L1725.6,752.4 L1727.0,757.4 L1728.5,746.2 L1729.9,749.3 L1731.3,740.6 L1732.7,749.7 L1734.2,741.3 L1735.6,753.0 L1737.0,744.8 L1738.4,756.8 L1739.8,750.5 L1741.3,755.3 L1742.7,746.6 L1744.1,762.1 L1745.5,747.4 L1747.0,753.8 L1748.4,746.6 L1749.8,755.1 L1751.2,745.0 L1752.7,749.6 L1754.1,743.8 L1755.5,752.7 L1756.9,746.8 L1758.4,755.0 L1759.8,751.0 L1761.2,754.1 L1762.6,747.0 L1764.0,753.3 L1765.5,748.8 L1766.9,751.2 L1768.3,743.3 L1769.7,749.0 L1771.2,742.1 L1772.6,749.9 L1774.0,743.9 L1775.4,747.2 L1776.9,741.2 L1778.3,746.1 L1779.7,742.2 L1781.1,746.4 L1782.6,738.5 L1784.0,743.5 L1785.4,742.8 L1786.8,748.4 L1788.2,737.9 L1789.7,748.1 L1791.1,736.9 L1792.5,747.9 L1793.9,735.5 L1795.4,749.2 L1796.8,739.1 L1798.2,752.4 L1799.6,742.9 L1801.1,747.5 L1802.5,741.5 L1803.9,750.1 L1805.3,738.6 L1806.8,745.7 L1808.2,737.4 L1809.6,745.8 L1811.0,736.0 L1812.4,740.1 L1813.9,738.7 L1815.3,741.5 L1816.7,734.2 L1818.1,743.3 L1819.6,731.6 L1821.0,746.8 L1822.4,735.6 L1823.8,745.9 L1825.3,734.9 L1826.7,746.4 L1828.1,735.1 L1829.5,744.8 L1831.0,735.0 L1832.4,745.6 L1833.8,733.9 L1835.2,748.9 L1836.6,737.9 L1838.1,748.0 L1839.5,739.9 L1840.9,743.9 L1842.3,742.7 L1843.8,747.0 L1845.2,738.3 L1846.6,745.0 L1848.0,735.7 L1849.5,753.7 L1850.9,738.1 L1852.3,749.8 L1853.7,738.7 L1855.2,747.2 L1856.6,737.5 L1858.0,744.9 L1859.4,738.0 L1860.8,747.5 L1862.3,738.7 L1863.7,750.0 L1865.1,739.4 L1866.5,747.6 L1868.0,740.4 L1869.4,748.2 L1870.8,740.2 L1872.2,752.2 L1873.7,741.2 L1875.1,749.5 L1876.5,742.8 L1877.9,747.5 L1879.4,733.6 L1880.8,745.5 L1882.2,740.1 L1883.6,745.3 L1885.0,737.6 L1886.5,747.7 L1887.9,734.5 L1889.3,749.1 L1890.7,731.7 L1892.2,743.5 L1893.6,736.4 L1895.0,742.4 L1896.4,733.3 L1897.9,743.9 L1899.3,737.8 L1900.7,743.2 L1902.1,739.2 L1903.6,747.9 L1905.0,738.5 L1906.4,745.7 L1907.8,740.7 L1909.2,744.1 L1910.7,734.3 L1912.1,741.6 L1913.5,740.9 L1914.9,746.1 L1916.4,739.2 L1917.8,746.5 L1919.2,736.2 L1920.6,746.8 L1922.1,733.9 L1923.5,744.4 L1924.9,734.4 L1926.3,743.0 L1927.8,732.7 L1929.2,742.7 L1930.6,734.0 L1932.0,739.8 L1933.4,725.7 L1934.9,737.7 L1936.3,729.1 L1937.7,738.4 L1939.1,729.2 L1940.6,741.1 L1942.0,730.1 L1943.4,737.7 L1944.8,731.7 L1946.3,741.1 L1947.7,731.1 L1949.1,743.0 L1950.5,738.4 L1952.0,743.2"/></g>
</g>
<rect x="941.2" y="66.0" width="967.8" height="140.8" fill="#fff" stroke="#262626" stroke-width="3.6"/>
<path d="M956.2,104.3 H1114.1" stroke="#0072BD" stroke-width="3.2"/>
<path d="M956.2,168.5 H1114.1" stroke="#D95319" stroke-width="3.2"/>
<text class="lg" style="letter-spacing:0.55px" x="1126.2" y="114.2">Biased pseudorange estimated error</text>
<text class="lg" x="1126.2" y="178.2">Ionospheric delay estimated error</text>
<text class="tk" style="letter-spacing:-1.7px" text-anchor="middle" x="244.5" y="1438.6">0</text>
<text class="tk" style="letter-spacing:-1.7px" text-anchor="middle" x="529.1" y="1438.6">100</text>
<text class="tk" style="letter-spacing:-1.7px" text-anchor="middle" x="813.7" y="1438.6">200</text>
<text class="tk" style="letter-spacing:-1.7px" text-anchor="middle" x="1098.3" y="1438.6">300</text>
<text class="tk" style="letter-spacing:-1.7px" text-anchor="middle" x="1383.0" y="1438.6">400</text>
<text class="tk" style="letter-spacing:-1.7px" text-anchor="middle" x="1667.6" y="1438.6">500</text>
<text class="tk" style="letter-spacing:-1.7px" text-anchor="middle" x="1952.2" y="1438.6">600</text>
<text class="tk" style="stroke-width:0.3px" transform="translate(116.4,1312.1) scale(1.28,0.9)">−</text>
<text class="tk" text-anchor="end" x="223.0" y="1309.6">0.4</text>
<text class="tk" style="stroke-width:0.3px" transform="translate(116.4,1183.3) scale(1.28,0.9)">−</text>
<text class="tk" text-anchor="end" x="223.0" y="1180.8">0.3</text>
<text class="tk" style="stroke-width:0.3px" transform="translate(116.4,1054.4) scale(1.28,0.9)">−</text>
<text class="tk" text-anchor="end" x="223.0" y="1051.9">0.2</text>
<text class="tk" style="stroke-width:0.3px" transform="translate(116.4,925.6) scale(1.28,0.9)">−</text>
<text class="tk" text-anchor="end" x="223.0" y="923.1">0.1</text>
<text class="tk" text-anchor="end" x="223.0" y="794.2">0</text>
<text class="tk" text-anchor="end" x="223.0" y="665.4">0.1</text>
<text class="tk" text-anchor="end" x="223.0" y="536.6">0.2</text>
<text class="tk" text-anchor="end" x="223.0" y="407.7">0.3</text>
<text class="tk" text-anchor="end" x="223.0" y="278.9">0.4</text>
<text class="tk" text-anchor="end" x="223.0" y="150.0">0.5</text>
<text class="lb" text-anchor="middle" x="1068.8" y="1507.7">Epoch(s)</text>
<text class="lb" text-anchor="middle" transform="translate(62.9,725.3) rotate(-90)">Error(m)</text>
</svg></body></html>
